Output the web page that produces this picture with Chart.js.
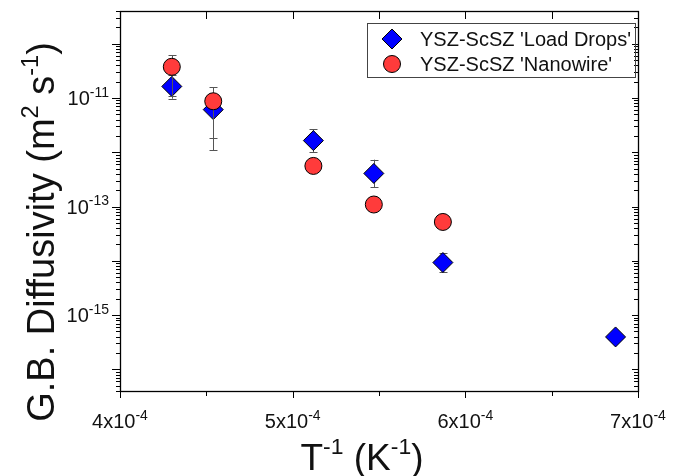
<!DOCTYPE html>
<html>
<head>
<meta charset="utf-8">
<script src="https://cdn.jsdelivr.net/npm/chart.js@4.4.0/dist/chart.umd.min.js"></script>
<style>
html, body { margin: 0; padding: 0; background: #fff; }
</style>
</head>
<body>
<canvas id="myChart" width="689" height="476"></canvas>
<script>
const seriesNames = ["YSZ-ScSZ 'Load Drops'", "YSZ-ScSZ 'Nanowire'"];

// 'Load Drops' series
const dropsX = [4.30e-4, 4.54e-4, 5.12e-4, 5.47e-4, 5.87e-4, 6.87e-4];
const dropsY = [1.63e-11, 6.1e-12, 1.64e-12, 4.07e-13, 9.3e-15, 3.96e-16];
const dropsLow = [9.7e-12, 1.1e-12, 1.0e-12, 2.27e-13, 6.1e-15, null];
const dropsHigh = [2.7e-11, 9.6e-12, 2.67e-12, 7.3e-13, 1.4e-14, null];

// 'Nanowire' series
const wireX = [4.30e-4, 4.54e-4, 5.12e-4, 5.47e-4, 5.87e-4];
const wireY = [3.75e-11, 8.7e-12, 5.6e-13, 1.09e-13, 5.2e-14];
const wireLow = [1.1e-11, 1.8e-12, null, null, null];
const wireHigh = [6.08e-11, 1.58e-11, null, null, null];

// tick labels: [base, superscript]
const xTicks = [4e-4, 5e-4, 6e-4, 7e-4];
const xTickLabels = [['4x10', '-4'], ['5x10', '-4'], ['6x10', '-4'], ['7x10', '-4']];
const yTicks = [1e-11, 1e-13, 1e-15];
const yTickLabels = [['10', '-11'], ['10', '-13'], ['10', '-15']];

const FONT = '"Liberation Sans", Arial, sans-serif';

function toPoints(xs, ys) {
    return xs.map((x, i) => ({ x: x, y: ys[i] }));
}

// draws pieces like [['T', false], ['-1', true], ...] ; y is baseline
function drawRich(ctx, parts, x, y, size, align, supScale) {
    const sup = size * (supScale || 0.7);
    let total = 0;
    const widths = parts.map(p => {
        ctx.font = (p[1] ? sup : size) + 'px ' + FONT;
        const w = ctx.measureText(p[0]).width;
        total += w;
        return w;
    });
    let cx = align === 'center' ? x - total / 2 : (align === 'right' ? x - total : x);
    ctx.textBaseline = 'alphabetic';
    ctx.textAlign = 'left';
    parts.forEach((p, i) => {
        ctx.font = (p[1] ? sup : size) + 'px ' + FONT;
        ctx.fillText(p[0], cx, p[1] ? y - size * 0.42 : y);
        cx += widths[i];
    });
}

const errorBars = {
    id: 'errorBars',
    beforeDatasetDraw(chart, args) {
        const ds = chart.data.datasets[args.index];
        const ys = chart.scales.y;
        const ctx = chart.ctx;
        ctx.save();
        ctx.strokeStyle = '#555';
        ctx.lineWidth = 1;
        args.meta.data.forEach((pt, i) => {
            if (ds.errLow[i] == null) return;
            const yl = ys.getPixelForValue(ds.errLow[i]);
            const yh = ys.getPixelForValue(ds.errHigh[i]);
            const x = Math.round(pt.x) + 0.5;
            ctx.beginPath();
            ctx.moveTo(x, yh);
            ctx.lineTo(x, yl);
            ctx.moveTo(x - 4, Math.round(yh) + 0.5);
            ctx.lineTo(x + 4, Math.round(yh) + 0.5);
            ctx.moveTo(x - 4, Math.round(yl) + 0.5);
            ctx.lineTo(x + 4, Math.round(yl) + 0.5);
            ctx.stroke();
        });
        ctx.restore();
    }
};

const frame = {
    id: 'frame',
    afterDraw(chart) {
        const ctx = chart.ctx;
        const a = chart.chartArea;
        const xs = chart.scales.x;
        const ys = chart.scales.y;
        ctx.save();
        ctx.strokeStyle = '#000';
        ctx.fillStyle = '#000';
        ctx.lineWidth = 1.3;
        ctx.strokeRect(a.left + 0.5, a.top + 0.5, a.right - a.left, a.bottom - a.top);

        ctx.lineWidth = 1;
        ctx.beginPath();
        // x ticks: majors and half-way minors
        for (let v = 4e-4; v <= 7.0001e-4; v += 0.5e-4) {
            const px = Math.round(xs.getPixelForValue(v)) + 0.5;
            const major = Math.abs(v * 1e4 - Math.round(v * 1e4)) < 1e-6;
            ctx.moveTo(px, a.bottom);
            ctx.lineTo(px, a.bottom + (major ? 7 : 5));
            ctx.moveTo(px, a.top);
            ctx.lineTo(px, a.top + 8);
        }
        // y ticks: decades and minors
        for (let n = -17; n <= -10; n++) {
            for (let k = 1; k <= 9; k++) {
                const v = k * Math.pow(10, n);
                if (v < ys.min || v > ys.max) continue;
                const py = Math.round(ys.getPixelForValue(v)) + 0.5;
                const major = k === 1;
                ctx.moveTo(a.left, py);
                ctx.lineTo(a.left - (major ? 8 : 4), py);
                ctx.moveTo(a.right, py);
                ctx.lineTo(a.right - (major ? 6 : 4), py);
            }
        }
        ctx.stroke();

        // tick labels
        ctx.fillStyle = '#111';
        xTicks.forEach((v, i) => {
            const px = xs.getPixelForValue(v);
            drawRich(ctx, [[xTickLabels[i][0], false], [xTickLabels[i][1], true]], px, a.bottom + 37, 20, 'center');
        });
        yTicks.forEach((v, i) => {
            const py = ys.getPixelForValue(v);
            drawRich(ctx, [[yTickLabels[i][0], false], [yTickLabels[i][1], true]], a.left - 11, py + 7, 20, 'right');
        });

        // axis titles
        drawRich(ctx, [['T', false], ['-1', true], [' (K', false], ['-1', true], [')', false]], 362, 470, 37, 'center', 0.62);
        ctx.save();
        ctx.translate(54, 232);
        ctx.rotate(-Math.PI / 2);
        drawRich(ctx, [['G.B. Diffusivity (m', false], ['2', true], [' s', false], ['-1', true], [')', false]], 0, 0, 38, 'center', 0.62);
        ctx.restore();

        // legend
        const lx = a.right - 271, ly = a.top + 12, lw = 268, lh = 54;
        ctx.strokeStyle = '#444';
        ctx.strokeRect(lx + 0.5, ly + 0.5, lw, lh);
        chart.data.datasets.forEach((ds, i) => {
            const rowY = ly + 16 + i * 25;
            ctx.fillStyle = ds.backgroundColor;
            ctx.strokeStyle = '#000';
            ctx.lineWidth = 1;
            Chart.helpers.drawPoint(ctx, {
                pointStyle: ds.pointStyle, radius: ds.pointRadius, rotation: 0, borderWidth: 1
            }, lx + 25, rowY);
            ctx.fillStyle = '#111';
            ctx.font = '20px ' + FONT;
            ctx.textAlign = 'left';
            ctx.textBaseline = 'middle';
            ctx.fillText(ds.label, lx + 53, rowY + 1);
        });
        ctx.restore();
    }
};

new Chart(document.getElementById('myChart').getContext('2d'), {
    type: 'scatter',
    data: {
        datasets: [{
            label: seriesNames[0],
            data: toPoints(dropsX, dropsY),
            errLow: dropsLow,
            errHigh: dropsHigh,
            pointStyle: 'rectRot',
            pointRadius: 10,
            backgroundColor: '#0000ff',
            borderColor: '#000',
            borderWidth: 1,
            order: 1
        }, {
            label: seriesNames[1],
            data: toPoints(wireX, wireY),
            errLow: wireLow,
            errHigh: wireHigh,
            pointStyle: 'circle',
            pointRadius: 8.5,
            backgroundColor: '#ff3b3b',
            borderColor: '#000',
            borderWidth: 1,
            order: 0
        }]
    },
    options: {
        responsive: false,
        animation: false,
        layout: { padding: { top: 7, right: 51, left: 0, bottom: 0 } },
        plugins: { legend: { display: false }, tooltip: { enabled: false } },
        scales: {
            x: {
                type: 'linear', min: 4e-4, max: 7e-4,
                ticks: { display: false },
                grid: { display: false },
                border: { display: false },
                afterFit(scale) { scale.height = 85; }
            },
            y: {
                type: 'logarithmic', min: 4e-17, max: 4e-10,
                ticks: { display: false },
                grid: { display: false },
                border: { display: false },
                afterFit(scale) { scale.width = 120; }
            }
        }
    },
    plugins: [errorBars, frame]
});
</script>
</body>
</html>
